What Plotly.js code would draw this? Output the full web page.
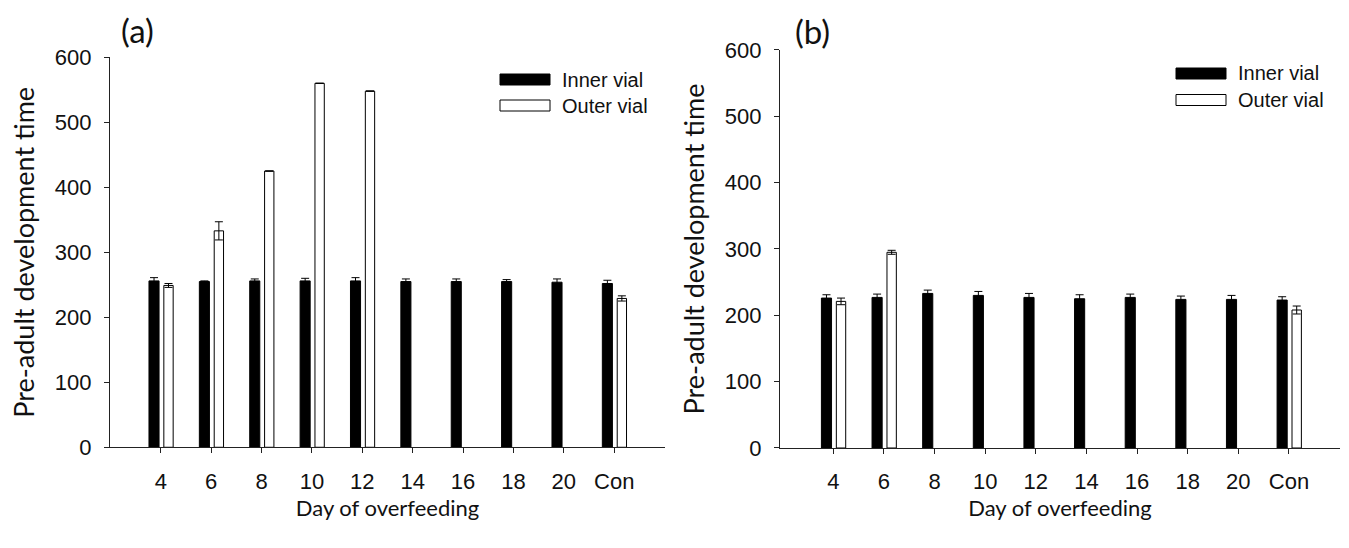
<!DOCTYPE html>
<html>
<head>
<meta charset="utf-8">
<script src="https://cdn.plot.ly/plotly-3.0.1.min.js"></script>
<style>html,body{margin:0;padding:0;background:#fff;}#chart{width:1349px;height:548px;}</style>
</head>
<body>
<div id="chart"></div>
<script>
// Categories (day of overfeeding)
const days = ["4", "6", "8", "10", "12", "14", "16", "18", "20", "Con"];

// Panel (a)
const innerA    = [256, 255, 256, 256, 256, 255, 255, 255, 254, 252];
const innerAErr = [5, 1, 3, 4, 5, 4, 4, 3, 5, 5];
const outerA    = [249, 333, 425, 560, 548, null, null, null, null, 229];
const outerAErr = [3, 14, 0, 0, 0, null, null, null, null, 4];

// Panel (b)
const innerB    = [226, 227, 233, 230, 227, 225, 227, 224, 224, 223];
const innerBErr = [5, 5, 5, 6, 6, 6, 5, 5, 6, 5];
const outerB    = [221, 295, null, null, null, null, null, null, null, 208];
const outerBErr = [5, 3, null, null, null, null, null, null, null, 6];

const panelLabels = ["(a)", "(b)"];
const yTitle = "Pre-adult development time";
const xTitle = "Day of overfeeding";
const seriesNames = ["Inner vial", "Outer vial"];
const seriesFill = ["#000", "#fff"];

const W = 1349, H = 548;
const tickFont = {family: "Liberation Sans, Arial, sans-serif", size: 22, color: "#111"};
const yTitleFont = {family: "Lato, Open Sans, sans-serif", size: 27, color: "#111"};
const xTitleFont = {family: "Lato, Open Sans, sans-serif", size: 22, color: "#111"};
const legendFont = {family: "Liberation Sans, Arial, sans-serif", size: 20, color: "#111"};
const errStyle = {type: "data", visible: true, color: "#000", thickness: 1, width: 4};

function innerTrace(y, err, xa, ya) {
  return {type: "bar", x: days, y: y, name: seriesNames[0], xaxis: xa, yaxis: ya,
    offset: -0.235, width: 0.2, showlegend: false,
    marker: {color: seriesFill[0], line: {color: "#000", width: 1}},
    error_y: Object.assign({array: err}, errStyle), hoverinfo: "x+y"};
}
function outerTrace(y, err, xa, ya) {
  return {type: "bar", x: days, y: y, name: seriesNames[1], xaxis: xa, yaxis: ya,
    offset: 0.06, width: 0.185, showlegend: false,
    marker: {color: seriesFill[1], line: {color: "#000", width: 1}},
    error_y: Object.assign({array: err}, errStyle), hoverinfo: "x+y"};
}

const data = [
  innerTrace(innerA, innerAErr, "x", "y"),
  outerTrace(outerA, outerAErr, "x", "y"),
  innerTrace(innerB, innerBErr, "x2", "y2"),
  outerTrace(outerB, outerBErr, "x2", "y2")
];

function xAxis(domain, range, anchor) {
  return {domain: domain, anchor: anchor, type: "category", range: range,
    showline: true, linecolor: "#222", linewidth: 1, ticks: "outside", ticklen: 5,
    tickwidth: 1, tickcolor: "#222", tickfont: tickFont, ticklabelstandoff: 9,
    showgrid: false, zeroline: false, fixedrange: true,
    title: {text: xTitle, font: xTitleFont, standoff: 6}};
}
function yAxis(domain, anchor) {
  return {domain: domain, anchor: anchor, range: [0, 600], dtick: 100, tick0: 0,
    showline: true, linecolor: "#222", linewidth: 1, ticks: "outside", ticklen: 5,
    tickwidth: 1, tickcolor: "#222", tickfont: tickFont, ticklabelstandoff: 8,
    showgrid: false, zeroline: false, fixedrange: true,
    title: {text: yTitle, font: yTitleFont, standoff: 12}};
}

// Legend boxes (decoration, in pixel positions of the page converted to paper)
function px(x) { return x / W; }
function py(y) { return 1 - y / H; }
const legendSpots = [
  {x0: 500, rows: [79.5, 105.5]},
  {x0: 1176, rows: [73.5, 100]}
];
const shapes = [];
const annotations = [];
legendSpots.forEach(function (spot) {
  spot.rows.forEach(function (cy, i) {
    shapes.push({type: "rect", xref: "paper", yref: "paper",
      x0: px(spot.x0), x1: px(spot.x0 + 50), y0: py(cy + 5.5), y1: py(cy - 5.5),
      fillcolor: seriesFill[i], line: {color: "#000", width: 1}});
    annotations.push({text: seriesNames[i], xref: "paper", yref: "paper",
      x: px(spot.x0 + 60), y: py(cy), xanchor: "left", yanchor: "middle",
      showarrow: false, font: legendFont});
  });
});
annotations.push(
  {text: panelLabels[0], xref: "paper", yref: "paper", x: px(119), y: py(30),
   xanchor: "left", yanchor: "middle", showarrow: false,
   font: {family: "Lato, Open Sans, sans-serif", size: 33, color: "#111"}},
  {text: panelLabels[1], xref: "paper", yref: "paper", x: px(793), y: py(31),
   xanchor: "left", yanchor: "middle", showarrow: false,
   font: {family: "Lato, Open Sans, sans-serif", size: 33, color: "#111"}}
);

const layout = {
  width: W, height: H,
  margin: {l: 0, r: 0, t: 0, b: 0},
  paper_bgcolor: "#fff", plot_bgcolor: "#fff",
  barmode: "overlay",
  showlegend: false,
  xaxis: xAxis([0.0815, 0.4930], [-1.01, 10.01], "y"),
  yaxis: yAxis([0.1838, 0.8954], "x"),
  xaxis2: xAxis([0.5782, 0.9933], [-1.053, 10.007], "y2"),
  yaxis2: yAxis([0.1825, 0.9088], "x2"),
  shapes: shapes,
  annotations: annotations
};

Plotly.newPlot("chart", data, layout, {staticPlot: true, displayModeBar: false});
</script>
</body>
</html>
